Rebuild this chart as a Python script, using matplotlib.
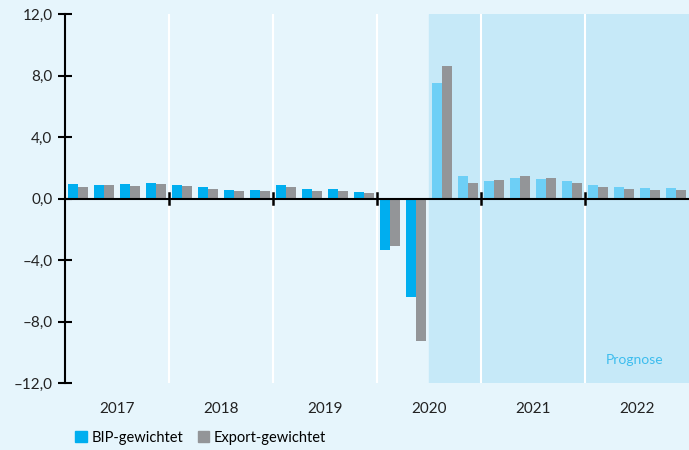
import matplotlib.pyplot as plt
import numpy as np
from matplotlib.patches import Patch

plt.rcParams['font.family'] = ['Lato', 'DejaVu Sans']

jahre = ["2017", "2018", "2019", "2020", "2021", "2022"]
bip = [0.97, 0.89, 0.95, 1.02, 0.91, 0.76, 0.58, 0.57,
       0.90, 0.61, 0.61, 0.43, -3.37, -6.40, 7.50, 1.46,
       1.13, 1.33, 1.26, 1.13, 0.87, 0.74, 0.68, 0.68]
export = [0.78, 0.89, 0.82, 0.93, 0.80, 0.65, 0.50, 0.50,
          0.72, 0.52, 0.50, 0.33, -3.07, -9.28, 8.60, 1.00,
          1.20, 1.46, 1.33, 1.00, 0.74, 0.61, 0.55, 0.55]
prognose_ab = 14  # erstes Prognosequartal (Q3 2020)

bg = '#e6f5fc'
fc_bg = '#c6e9f8'
blau = '#00aeef'
blau_hell = '#6dcff6'
grau = '#939598'

fig = plt.figure(figsize=(6.89, 4.50), dpi=100, facecolor=bg)
ax = fig.add_axes([65/689, 1 - 383/450, 624/689, 369/450])
ax.set_facecolor(bg)

x = np.arange(len(bip))
ax.axvspan(prognose_ab - 0.5, len(bip) - 0.5, color=fc_bg, zorder=0)
for b in np.arange(3.5, len(bip) - 1, 4):
    ax.axvline(b, color='white', lw=1.5, zorder=1)

farben = [blau_hell if i >= prognose_ab else blau for i in x]
ax.bar(x - 0.2, bip, width=0.4, color=farben, zorder=2)
ax.bar(x + 0.2, export, width=0.4, color=grau, zorder=2)

ax.axhline(0, color='black', lw=1.5, zorder=3)
for b in np.arange(3.5, len(bip) - 1, 4):
    ax.plot([b, b], [-0.33, 0.33], color='black', lw=1.8, zorder=3)

ax.set_xlim(-0.5, len(bip) - 0.5)
ax.set_ylim(-12, 12)
ax.set_yticks([12, 8, 4, 0, -4, -8, -12])
ax.set_yticklabels([f"{v:.1f}".replace('.', ',').replace('-', '\u2013') for v in [12, 8, 4, 0, -4, -8, -12]])
ax.tick_params(axis='y', direction='inout', length=10, width=1.5, labelsize=11, colors='black', labelcolor='#222222', pad=4)
ax.set_xticks(np.arange(1.5, len(bip), 4))
ax.set_xticklabels(jahre)
ax.tick_params(axis='x', length=0, labelsize=11, labelcolor='#222222', pad=14)

for s in ['top', 'right', 'bottom']:
    ax.spines[s].set_visible(False)
ax.spines['left'].set_linewidth(1.5)

ax.text(21.4, -10.5, 'Prognose', color='#3dbdee', fontsize=10, ha='center', va='center')

handles = [Patch(color=blau), Patch(color=grau)]
fig.legend(handles, ['BIP-gewichtet', 'Export-gewichtet'], loc='lower left',
           bbox_to_anchor=(62/689, -0.018), ncol=2, frameon=False, fontsize=10.5,
           handlelength=0.8, handleheight=0.8, handletextpad=0.3, columnspacing=1.0)

fig.savefig('out.png', dpi=100, facecolor=bg)
